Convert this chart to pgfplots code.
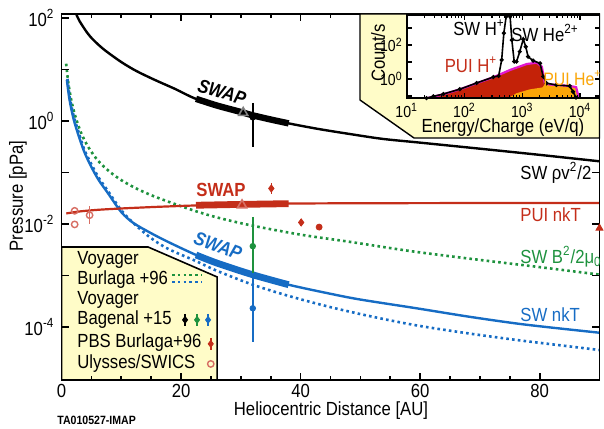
\documentclass[border=0pt]{standalone}
\usepackage{fontspec}
\setmainfont{Liberation Sans}[FakeStretch=0.88]
\usepackage{pgfplots}
\pgfplotsset{compat=1.18}
\definecolor{swred}{RGB}{196,46,26}
\definecolor{swblue}{RGB}{22,108,196}
\definecolor{swgreen}{RGB}{30,146,62}
\definecolor{legyellow}{RGB}{255,252,200}
\definecolor{inred}{RGB}{196,34,8}
\definecolor{inorange}{RGB}{250,166,8}
\definecolor{inmag}{RGB}{226,24,206}
\definecolor{softred}{RGB}{215,110,100}
\tikzset{dotl/.style={line width=1.3pt, dash pattern=on 1.3pt off 1.6pt}}
\begin{document}
\begin{tikzpicture}[font=\fontsize{9.5}{11}\selectfont]
\useasboundingbox (-30.75pt,-24pt) rectangle (271.25pt,190pt);
\begin{axis}[
  at={(0pt,0pt)}, anchor=south west, scale only axis,
  width=269pt, height=183pt,
  xmin=0, xmax=90, ymode=log, ymin=9.3e-6, ymax=120,
  xtick={0,20,40,60,80}, xticklabels={0,20,40,60,80},
  minor x tick num=3,
  ytick={1e-4,1e-3,1e-2,1e-1,1,10,100},
  yticklabels={10\textsuperscript{-4},,10\textsuperscript{-2},,10\textsuperscript{0},,10\textsuperscript{2}},
  minor y tick style={draw=none},
  tick align=inside, major tick length=3.5pt, minor tick length=2pt,
  axis line style={line width=0.9pt},
  tick style={black, line width=0.8pt},
  tick label style={font=\fontsize{9.5}{11}\selectfont},
  xticklabel style={inner sep=1pt, yshift=-1pt},
  axis on top,
]
% SW B^2/2mu0 (green dotted)
\addplot[swgreen, dotl, smooth] coordinates {(0.78,13) (1.0,7.5) (1.2,5.0) (1.62,2.6) (2.3,1.25) (3.3,0.58) (4.5,0.31) (6.1,0.17) (8,0.105) (10,0.071) (12.5,0.049) (15.6,0.034) (21.1,0.020) (25.6,0.0138) (31.5,0.0095) (40,0.0062) (48.2,0.0045) (55,0.0034) (60,0.0028) (70,0.0020) (80,0.00145) (90.5,0.00102)};
% Voyager Burlaga SW nkT (blue dotted)
\addplot[swblue, dotl, smooth] coordinates {(1.0,6.6) (1.4,2.8) (2.0,1.3) (2.8,0.64) (3.8,0.28) (5,0.145) (6.2,0.080) (7.75,0.044) (10,0.0185) (12,0.0105) (14.8,0.0055) (17.8,0.0033) (22.5,0.0019) (26,0.00123) (32,0.00066) (38,0.0004) (45,0.000242) (52,0.000158) (59.4,0.000107) (68,7.5e-5) (76,5.6e-5) (82,4.6e-5) (90.5,3.5e-5)};
% SW nkT (blue solid)
\addplot[swblue, line width=1.2pt, smooth] coordinates {(0.9,6.3) (1.34,2.6) (2.0,1.12) (2.73,0.58) (3.8,0.254) (4.97,0.13) (6.2,0.072) (7.75,0.040) (10,0.017) (12,0.0105) (14.8,0.0068) (17.8,0.0045) (22.5,0.0025) (26,0.00174) (32,0.00103) (38,0.00066) (45,0.00044) (50,0.00034) (59.4,0.00023) (68,0.000159) (76,0.000117) (82,9.7e-5) (90.5,7.6e-5)};
% PUI nkT (red)
\addplot[swred, line width=1.1pt, smooth] coordinates {(0.8,0.016) (3,0.0175) (6,0.0188) (10,0.020) (16,0.0215) (23,0.023) (30,0.024) (40,0.025) (60,0.0254) (90,0.0256)};
% SW rho v^2/2 (black)
\addplot[black, line width=1.2pt, smooth] coordinates {(2.46,120) (3,88) (4.4,50) (5.5,36) (7.2,24) (10,14) (12.5,9.4) (15.6,6.3) (19,4.2) (22.3,2.75) (26,2.0) (30,1.5) (32,1.29) (35,1.07) (38.2,0.89) (43,0.70) (48.2,0.56) (53.7,0.45) (60,0.38) (70,0.29) (80,0.22) (90,0.165)};
% SWAP thick segments
\addplot[black, line width=3.2pt, smooth] coordinates {(22.5,2.7) (26,2.0) (30,1.5) (32,1.29) (35,1.07) (38,0.9)};
\addplot[swred, line width=3.4pt] coordinates {(22.5,0.0231) (30,0.024) (38,0.0248)};
\addplot[swblue, line width=3.4pt, smooth] coordinates {(22.5,0.0025) (26,0.00174) (32,0.00103) (38,0.00066)};
% Voyager Bagenal error bars at 32 AU
\addplot[black, line width=0.9pt] coordinates {(32,2.26) (32,0.316)};
\addplot[swgreen, line width=0.9pt] coordinates {(32,0.0138) (32,0.0011)};
\addplot[swblue, line width=0.9pt] coordinates {(32,0.0011) (32,5.2e-5)};
\addplot[only marks, mark=*, mark size=1.4pt, black] coordinates {(32,1.18)};
\addplot[only marks, mark=*, mark size=1.4pt, swgreen] coordinates {(32,0.0037)};
\addplot[only marks, mark=*, mark size=1.4pt, swblue] coordinates {(32,0.00023)};
% SWAP open triangles
\addplot[only marks, mark=triangle, mark size=2.6pt, gray, mark options={fill=white, line width=0.8pt}] coordinates {(30.4,1.45)};
\addplot[only marks, mark=triangle, mark size=2.6pt, softred, mark options={fill=white, line width=0.8pt}] coordinates {(30.2,0.0232)};
% PBS Burlaga+96
\addplot[swred, line width=0.8pt] coordinates {(35.1,0.063) (35.1,0.038)};
\addplot[swred, line width=0.8pt] coordinates {(40.1,0.0125) (40.1,0.0091)};
\addplot[only marks, mark=diamond*, mark size=1.8pt, swred] coordinates {(35.1,0.049) (40.1,0.0107)};
\addplot[only marks, mark=*, mark size=1.5pt, swred] coordinates {(43.1,0.0087)};
\addplot[only marks, mark=triangle*, mark size=2pt, swred] coordinates {(90,0.0083)};
% Ulysses/SWICS
\addplot[softred, line width=0.8pt] coordinates {(4.7,0.0219) (4.7,0.0100)};
\addplot[only marks, mark=o, mark size=1.6pt, softred, mark options={fill=white, line width=0.7pt}] coordinates {(2.2,0.018) (2.2,0.0098) (4.7,0.0148)};
% legend box
\filldraw[fill=legyellow, draw=black, line width=0.8pt] (axis cs:0,3.57e-3) -- (axis cs:14.48,3.57e-3) -- (axis cs:26.03,9.35e-4) -- (axis cs:26.03,5e-6) -- (axis cs:0,5e-6) -- cycle;
% legend samples
\addplot[swgreen, dotl] coordinates {(18.5,0.00102) (23.5,0.00102)};
\addplot[swblue, dotl] coordinates {(18.5,7.5e-4) (23.5,7.5e-4)};
\addplot[black, line width=0.8pt] coordinates {(20.67,1.8e-4) (20.67,1.05e-4)};
\addplot[swgreen, line width=0.8pt] coordinates {(22.68,1.8e-4) (22.68,1.05e-4)};
\addplot[swblue, line width=0.8pt] coordinates {(24.52,1.8e-4) (24.52,1.05e-4)};
\addplot[only marks, mark=diamond*, mark size=1.7pt, black] coordinates {(20.67,1.37e-4)};
\addplot[only marks, mark=diamond*, mark size=1.7pt, swgreen] coordinates {(22.68,1.37e-4)};
\addplot[only marks, mark=diamond*, mark size=1.7pt, swblue] coordinates {(24.52,1.37e-4)};
\addplot[swred, line width=0.8pt] coordinates {(24.97,6.1e-5) (24.97,3.6e-5)};
\addplot[only marks, mark=diamond*, mark size=1.7pt, swred] coordinates {(24.97,4.68e-5)};
\addplot[only marks, mark=o, mark size=1.6pt, softred, mark options={fill=white, line width=0.7pt}] coordinates {(24.97,1.91e-5)};
\end{axis}
\begin{scope}[shift={(-30.75pt,190pt)},x=0.5pt,y=-0.5pt]
\node[rotate=90] at (18,196) {Pressure [pPa]};
\node[inner sep=0pt] at (331,411) {Heliocentric Distance [AU]};
\node[anchor=west, font=\fontsize{6}{7}\selectfont\bfseries, inner sep=0pt] at (57,420) {TA010527-IMAP};
% legend text
\begin{scope}[every node/.style={anchor=west, inner sep=0pt}]
\node at (77,260) {Voyager};
\node at (77,280) {Burlaga +96};
\node at (77,300) {Voyager};
\node at (77,320) {Bagenal +15};
\node at (77,343) {PBS Burlaga+96};
\node at (77,364) {Ulysses/SWICS};
\node at (520,173) {SW ρv\textsuperscript{2}/2};
\node[text=swred] at (520,215) {PUI nkT};
\node[text=swgreen] at (520,257) {SW B\textsuperscript{2}/2μ\textsubscript{0}};
\node[text=swblue] at (520,315) {SW nkT};
\end{scope}
\node[rotate=-17, inner sep=0pt, font=\fontsize{9.5}{11}\selectfont\bfseries\itshape] at (222,92) {SWAP};
\node[text=swred, inner sep=0pt, font=\fontsize{9.5}{11}\selectfont\bfseries] at (221,190) {SWAP};
\node[rotate=-20, inner sep=0pt, text=swblue, font=\fontsize{9.5}{11}\selectfont\bfseries\itshape] at (218,246) {SWAP};
% inset box
\filldraw[fill=legyellow, draw=black, line width=0.7pt] (360,14) -- (599.5,14) -- (599.5,138) -- (414,138) -- (360,100) -- cycle;
\node[rotate=90] at (378,53) {Count/s};
\node at (503,128) {Energy/Charge (eV/q)};
\end{scope}
\begin{axis}[
  at={(172.6pt,140.85pt)}, anchor=south west, scale only axis,
  width=96.4pt, height=41.65pt,
  xmode=log, ymode=log, xmin=10, xmax=21700, ymin=0.073, ymax=5800,
  xtick={10,100,1000,10000},
  xticklabels={10\textsuperscript{1},10\textsuperscript{2},10\textsuperscript{3},10\textsuperscript{4}},
  ytick={0.1,1,10,100,1000},
  yticklabels={,10\textsuperscript{0},,10\textsuperscript{2},},
  minor y tick style={draw=none},
  tick align=inside, major tick length=2.5pt, minor tick length=1.5pt,
  tick label style={font=\fontsize{8}{9}\selectfont},
  xticklabel style={yshift=1pt},
  yticklabel style={xshift=1.5pt},
  axis background/.style={fill=white},
  axis line style={line width=0.8pt},
  tick style={black, line width=0.6pt},
  axis on top,
]
\addplot[fill=inred, draw=none] coordinates {(22,0.05) (22,0.073) (29,0.091) (43,0.126) (83,0.245) (162,0.56) (316,1.26) (616,3.39) (1200,7.6) (1780,9.1) (2180,5.25) (2460,0.56) (2460,0.05)};
\addplot[fill=inorange, draw=none] coordinates {(468,0.05) (795,0.145) (1350,0.245) (2250,0.32) (2460,0.5) (3000,0.47) (3880,0.447) (6610,0.389) (8550,0.33) (9530,0.05)};
\addplot[inmag, line width=1.1pt] coordinates {(22,0.073) (29,0.091) (43,0.126) (83,0.245) (162,0.56) (316,1.26) (616,3.39) (1200,7.6) (1780,9.1) (2180,5.25) (2460,0.56) (3000,0.47) (3880,0.447) (6610,0.389) (8550,0.33) (9530,0.073)};
\addplot[black, line width=0.8pt, mark=*, mark size=0.6pt] coordinates {(22,0.075) (29,0.095) (43,0.13) (83,0.25) (162,0.58) (316,1.3) (390,1.5) (440,13.2) (480,500) (525,4570) (550,15000) (580,15000) (616,4570) (660,195) (725,10.5) (795,10.5) (905,40.7) (1040,219) (1150,79) (1260,20.4) (1540,12.0) (2030,8.3) (2300,1.38) (2630,0.56) (3880,0.447) (6610,0.389) (7560,0.178) (8500,0.08)};
\end{axis}
\begin{scope}[shift={(-30.75pt,190pt)},x=0.5pt,y=-0.5pt]
\node at (479,28) {SW H\textsuperscript{+}};
\node at (545,33) {SW He\textsuperscript{2+}};
\node[text=swred] at (471,65) {PUI H\textsuperscript{+}};
\node[text=inorange, anchor=east, inner sep=0pt, font=\fontsize{9}{10}\selectfont] at (602,78) {PUI He\textsuperscript{+}};
\end{scope}
\end{tikzpicture}
\end{document}
